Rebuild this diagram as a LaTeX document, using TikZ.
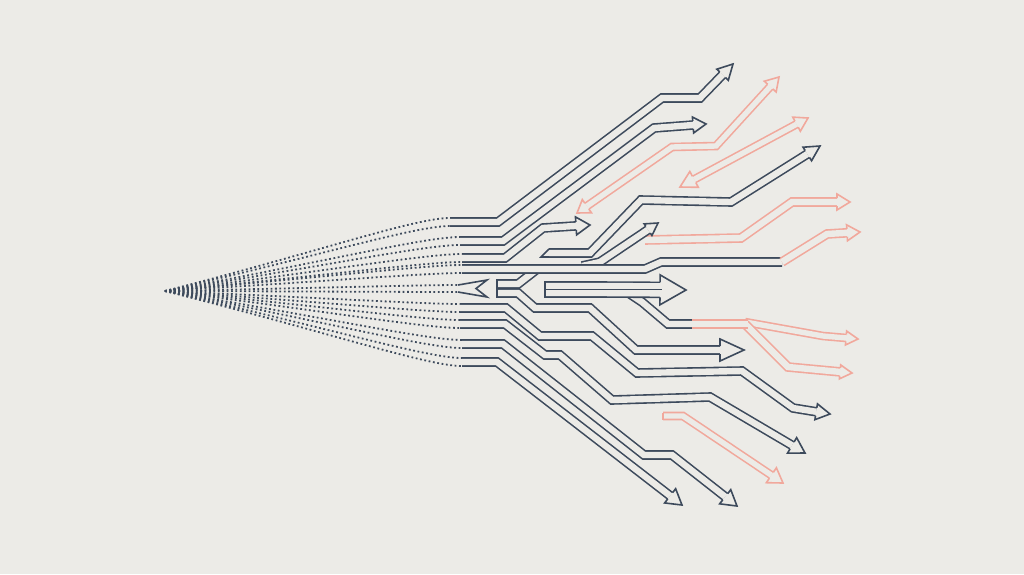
\documentclass[tikz,border=0pt]{standalone}
\usetikzlibrary{calc}
\definecolor{bgc}{RGB}{236,235,231}
\definecolor{dkc}{RGB}{61,74,92}
\definecolor{pkc}{RGB}{241,168,156}
\def\lwn{1.6}
\tikzset{
  dk/.style={draw=dkc},
  pk/.style={draw=pkc},
  dotl/.style={dkc, line width=1.8pt, dash pattern=on 1.8pt off 2.6pt},
}
% shaft only: #1 style, #2 half width, #3 path
\newcommand\sh[3]{%
  \pgfmathsetmacro\dd{2*#2-\lwn}%
  \draw[#1, line width=\lwn pt, double=bgc, double distance=\dd pt, line join=miter] #3;
}
% head only: #1 style, #2 half width, #3 head length, #4 head half width, #5 pen, #6 tip
\newcommand\hd[6]{%
  \coordinate (T) at (#6);
  \coordinate (Q) at (#5);
  \coordinate (B) at ($(T)!#3!(Q)$);
  \filldraw[#1, fill=bgc, line width=\lwn pt, line join=miter]
    ($(B)!#2pt!90:(T)$) -- ($(B)!#4!90:(T)$) -- (T) -- ($(B)!#4!-90:(T)$) -- ($(B)!#2pt!-90:(T)$);
}
% full arrow: #1 style, #2 half width, #3 head length, #4 head half width, #5 path prefix, #6 pen, #7 tip
\newcommand\fa[7]{%
  \coordinate (T) at (#7);
  \coordinate (Q) at (#6);
  \coordinate (B) at ($(T)!#3!(Q)$);
  \pgfmathsetmacro\dd{2*#2-\lwn}%
  \draw[#1, line width=\lwn pt, double=bgc, double distance=\dd pt, line join=miter] #5 (Q) -- (B);
  \filldraw[#1, fill=bgc, line width=\lwn pt, line join=miter]
    ($(B)!#2pt!90:(T)$) -- ($(B)!#4!90:(T)$) -- (T) -- ($(B)!#4!-90:(T)$) -- ($(B)!#2pt!-90:(T)$);
}
\begin{document}
\begin{tikzpicture}[x=1pt,y=-1pt]
\fill[bgc] (0,0) rectangle (1024,574);
\useasboundingbox (0,0) rectangle (1024,574);

% dotted fan
\coordinate (apex) at (165,291);
\foreach \x/\y in {450/218,450/226,460/237,460/245,462/254,462/262,462/265,462/273,
                   458/285,458/292,460/304,460/312,460/320,460/328,462/340,462/348,462/358,462/366}{
  \draw[dotl] (apex) .. controls ($(apex)!0.55!(\x,\y)$) and (\x-35,\y) .. (\x,\y);
}

% chevron tail
\draw[dk, line width=\lwn pt, line join=miter] (458,285) -- (487,280) -- (476,288.5) -- (487,297) -- (458,292);

% pink arrows in the back
% P1 double headed
\sh{pk}{3.5}{($(577,213)!12pt!(672,147)$) -- (672,147) -- (716,146) -- ($(779,77)!13pt!(716,146)$)}
\hd{pk}{3.5}{12pt}{8pt}{672,147}{577,213}
\hd{pk}{3.5}{13pt}{8pt}{716,146}{779,77}
% P2 double headed
\sh{pk}{3.5}{($(680,187)!16pt!(808,118)$) -- ($(808,118)!13pt!(680,187)$)}
\hd{pk}{3.5}{16pt}{9pt}{808,118}{680,187}
\hd{pk}{3.5}{13pt}{8pt}{680,187}{808,118}
% P3
\fa{pk}{4}{13pt}{8pt}{(645,240) -- (741,238) --}{792,202}{850,202}
% P6
\fa{pk}{3.5}{14pt}{9pt}{(663,416) --}{683,416}{783,483}
\draw[pk, line width=\lwn pt] (663,412.5) -- (663,419.5);

% upper dark arrows
\fa{dk}{4}{15pt}{8pt}{(450,222) -- (498,222) -- (662,98) --}{700,98}{733,64}
\fa{dk}{4}{13pt}{8pt}{(460,241) -- (503,241) --}{654,128}{706,124}
\fa{dk}{4}{14pt}{9pt}{(462,258) -- (505,258) --}{543,228}{590,225}
% T4 small
\fa{dk}{4}{12pt}{7pt}{(582,266) --}{600,262}{658,223}
% T5 with pointed tail
\fa{dk}{4}{15pt}{8pt}{(549,253) -- (590,253) -- (641,200) --}{731,202}{820,146}
\draw[dk, line width=\lwn pt, line join=miter] (549,249) -- (541,257) -- (549,257);

% fork branches
\sh{dk}{4}{(497,284) -- (518,284) -- (536,270)}
\fa{dk}{4}{24pt}{11pt}{(497,293) -- (518,293) -- (535,308) -- (590,308) --}{636,350}{744,350}
\draw[dk, line width=\lwn pt] (497,279.2) -- (497,297.8);

% T6 dark then pink
\sh{dk}{4}{(462,269) -- (645,269) -- (661,262) -- (782,262)}
\fa{pk}{4}{13pt}{8pt}{(782,262) --}{827,234}{860,232}

% P5 dark then pink split
\sh{dk}{4}{(630,294) -- (642,302) -- (668,324) -- (694,324)}
\fa{pk}{3.5}{12pt}{7pt}{(745,322) --}{823,336}{858,339}
\fa{pk}{4}{12pt}{7pt}{(745,324) --}{788,367}{852,373}
\sh{pk}{4}{(692,324) -- (748,324)}

% big arrow
\fa{dk}{7.5}{26pt}{15pt}{(545,289.5) --}{600,289.5}{686,290}
\draw[dk, line width=\lwn pt] (545,281.2) -- (545,297.8);
\draw[dk, line width=\lwn pt] (545,289.5) -- (662,289.5);

% lower dark arrows
\fa{dk}{4}{14pt}{8pt}{(460,308) -- (506,308) -- (540,336) -- (592,336) -- (637,373) -- (742,371) --}{793,408}{830,414}
\fa{dk}{4}{15pt}{9pt}{(460,324) -- (505,324) -- (545,355) -- (560,355) -- (612,400) --}{710,397}{805,453}
\fa{dk}{4}{15pt}{9pt}{(462,344) -- (503,344) -- (644,455) --}{672,455}{737,506}
\fa{dk}{4}{15pt}{9pt}{(462,362) --}{497,362}{682,505}
\end{tikzpicture}
\end{document}
